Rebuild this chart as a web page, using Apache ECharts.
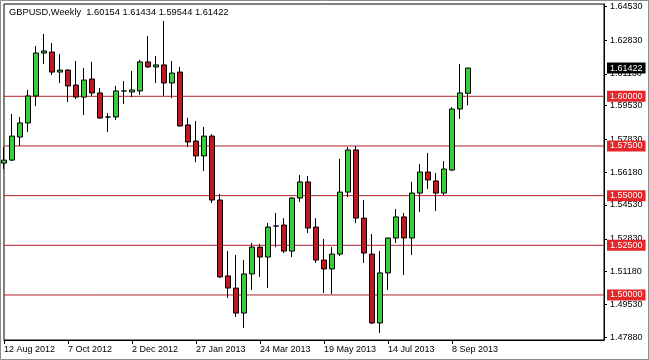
<!DOCTYPE html>
<html><head><meta charset="utf-8">
<script src="https://cdn.jsdelivr.net/npm/echarts@6/dist/echarts.min.js"></script>
<style>html,body{margin:0;padding:0;background:#fff;}#c{width:649px;height:360px;}</style>
</head><body><div id="c"></div>
<script>
const dates = ['12 Aug 2012','19 Aug 2012','26 Aug 2012','2 Sep 2012','9 Sep 2012','16 Sep 2012','23 Sep 2012','30 Sep 2012','7 Oct 2012','14 Oct 2012',
 '21 Oct 2012','28 Oct 2012','4 Nov 2012','11 Nov 2012','18 Nov 2012','25 Nov 2012','2 Dec 2012','9 Dec 2012','16 Dec 2012','23 Dec 2012',
 '30 Dec 2012','6 Jan 2013','13 Jan 2013','20 Jan 2013','27 Jan 2013','3 Feb 2013','10 Feb 2013','17 Feb 2013','24 Feb 2013','3 Mar 2013',
 '10 Mar 2013','17 Mar 2013','24 Mar 2013','31 Mar 2013','7 Apr 2013','14 Apr 2013','21 Apr 2013','28 Apr 2013','5 May 2013','12 May 2013',
 '19 May 2013','26 May 2013','2 Jun 2013','9 Jun 2013','16 Jun 2013','23 Jun 2013','30 Jun 2013','7 Jul 2013','14 Jul 2013','21 Jul 2013',
 '28 Jul 2013','4 Aug 2013','11 Aug 2013','18 Aug 2013','25 Aug 2013','1 Sep 2013','8 Sep 2013','15 Sep 2013','22 Sep 2013'];
const opens = [1.5664,1.5679,1.5795,1.5866,1.6002,1.6218,1.6223,1.6122,1.6132,1.6057,
 1.5996,1.6087,1.6017,1.5896,1.5896,1.6027,1.6022,1.6027,1.6173,1.6148,
 1.6158,1.6067,1.6122,1.5856,1.5775,1.5700,1.5800,1.5478,1.5096,1.5035,
 1.4909,1.5106,1.5241,1.5191,1.5347,1.5352,1.5221,1.5488,1.5569,1.5342,
 1.5176,1.5131,1.5206,1.5518,1.5730,1.5387,1.5206,1.4859,1.5111,1.5287,
 1.5393,1.5287,1.5513,1.5619,1.5574,1.5513,1.5629,1.5936,1.60154];
const closes = [1.5679,1.5800,1.5866,1.6002,1.6218,1.6228,1.6122,1.6132,1.6052,1.5996,
 1.6082,1.6017,1.5891,1.5896,1.6027,1.6027,1.6032,1.6173,1.6148,1.6158,
 1.6067,1.6117,1.5851,1.5770,1.5700,1.5800,1.5478,1.5091,1.5035,1.4909,
 1.5106,1.5241,1.5191,1.5342,1.5347,1.5221,1.5488,1.5569,1.5337,1.5176,
 1.5131,1.5206,1.5518,1.5730,1.5387,1.5211,1.4859,1.5111,1.5287,1.5393,
 1.5287,1.5513,1.5619,1.5579,1.5513,1.5634,1.5936,1.6017,1.61422];
const lows = [1.5634,1.5674,1.5750,1.5820,1.5951,1.6163,1.6107,1.6067,1.5971,1.5986,
 1.5906,1.6002,1.5886,1.5820,1.5881,1.5961,1.5996,1.6007,1.6143,1.6067,
 1.6002,1.5991,1.5846,1.5745,1.5669,1.5624,1.5463,1.5086,1.4985,1.4889,
 1.4834,1.5025,1.5091,1.5035,1.5241,1.5211,1.5191,1.5468,1.5312,1.5161,
 1.5010,1.5005,1.5196,1.5493,1.5362,1.5161,1.4854,1.4809,1.5025,1.5262,
 1.5101,1.5201,1.5418,1.5534,1.5423,1.5503,1.5624,1.5886,1.59544];
const highs = [1.5745,1.5911,1.5896,1.6032,1.6253,1.6314,1.6268,1.6213,1.6137,1.6178,
 1.6143,1.6173,1.6042,1.5916,1.6052,1.6077,1.6127,1.6183,1.6303,1.6203,
 1.6379,1.6178,1.6148,1.5891,1.5876,1.5846,1.5810,1.5508,1.5221,1.5201,
 1.5176,1.5262,1.5257,1.5362,1.5413,1.5387,1.5493,1.5604,1.5599,1.5387,
 1.5282,1.5241,1.5685,1.5745,1.5750,1.5478,1.5307,1.5221,1.5287,1.5433,
 1.5413,1.5569,1.5659,1.5715,1.5614,1.5674,1.5946,1.6163,1.61434];
const yTicks = [1.64530,1.62830,1.61130,1.59530,1.57830,1.56180,1.54530,1.52830,1.51180,1.49530,1.47880];
const levels = [1.60000,1.57500,1.55000,1.52500,1.50000];
const lastPrice = 1.61422;
const titleText = 'GBPUSD,Weekly  1.60154 1.61434 1.59544 1.61422';
const emptySlots = 17;

const FONT = '"Liberation Sans", Arial, sans-serif';
const cats = dates.concat(new Array(emptySlots).fill(''));
const lastIdx = cats.length - 1;
const ohlc = opens.map((o, i) => [o, closes[i], lows[i], highs[i]]);
const showIdx = (i) => i % 8 === 0 && i < dates.length;
const LINE_RED = '#b3212a';

function levelSeries(v, lineColor, boxColor, z) {
  return {
    type: 'line', data: [[0, v], [lastIdx, v]], symbol: 'none', silent: true, z: z,
    clip: false,
    lineStyle: {color: lineColor, width: 1, type: 'solid'},
    endLabel: {show: true, formatter: () => v.toFixed(5), distance: 3, color: '#fff',
      backgroundColor: boxColor, padding: [1, 3, 1, 3], fontSize: 9, fontFamily: FONT}
  };
}

const chart = echarts.init(document.getElementById('c'), null, {renderer: 'canvas'});
chart.setOption({
  animation: false,
  backgroundColor: '#fff',
  grid: {left: 4, right: 45, top: 4, bottom: 20, show: true, borderColor: '#000', borderWidth: 1, backgroundColor: '#fff'},
  graphic: [
    {type: 'rect', shape: {x: 0.5, y: 0.5, width: 648, height: 359}, style: {fill: null, stroke: '#8c8c8c', lineWidth: 1}, silent: true, z: 100},
    {type: 'text', left: 9, top: 8, style: {text: titleText, font: '9.3px ' + FONT, fill: '#000'}, z: 100}
  ],
  xAxis: {
    type: 'category', data: cats, boundaryGap: false,
    axisLine: {show: true, lineStyle: {color: '#000', width: 1}},
    axisTick: {show: true, length: 4, interval: showIdx, lineStyle: {color: '#000'}},
    axisLabel: {interval: showIdx, align: 'left', margin: 5, fontSize: 9, fontFamily: FONT, color: '#000'},
    splitLine: {show: false}
  },
  yAxis: {
    type: 'value', position: 'right', scale: true, min: 1.47735, max: 1.64646,
    axisLine: {show: true, lineStyle: {color: '#000'}},
    axisTick: {show: true, length: 3, customValues: yTicks, lineStyle: {color: '#000'}},
    axisLabel: {customValues: yTicks, formatter: v => v.toFixed(5), margin: 6, fontSize: 9, fontFamily: FONT, color: '#000'},
    splitLine: {show: false}
  },
  series: levels.map(v => levelSeries(v, LINE_RED, '#e3262a', 1))
    .concat([levelSeries(lastPrice, 'rgba(0,0,0,0)', '#000', 1)])
    .concat([{
      type: 'candlestick',
      data: ohlc,
      barWidth: 5,
      z: 3,
      itemStyle: {color: '#36d036', color0: '#c4161c', borderColor: '#000', borderColor0: '#000', borderWidth: 1}
    }])
});
</script></body></html>
